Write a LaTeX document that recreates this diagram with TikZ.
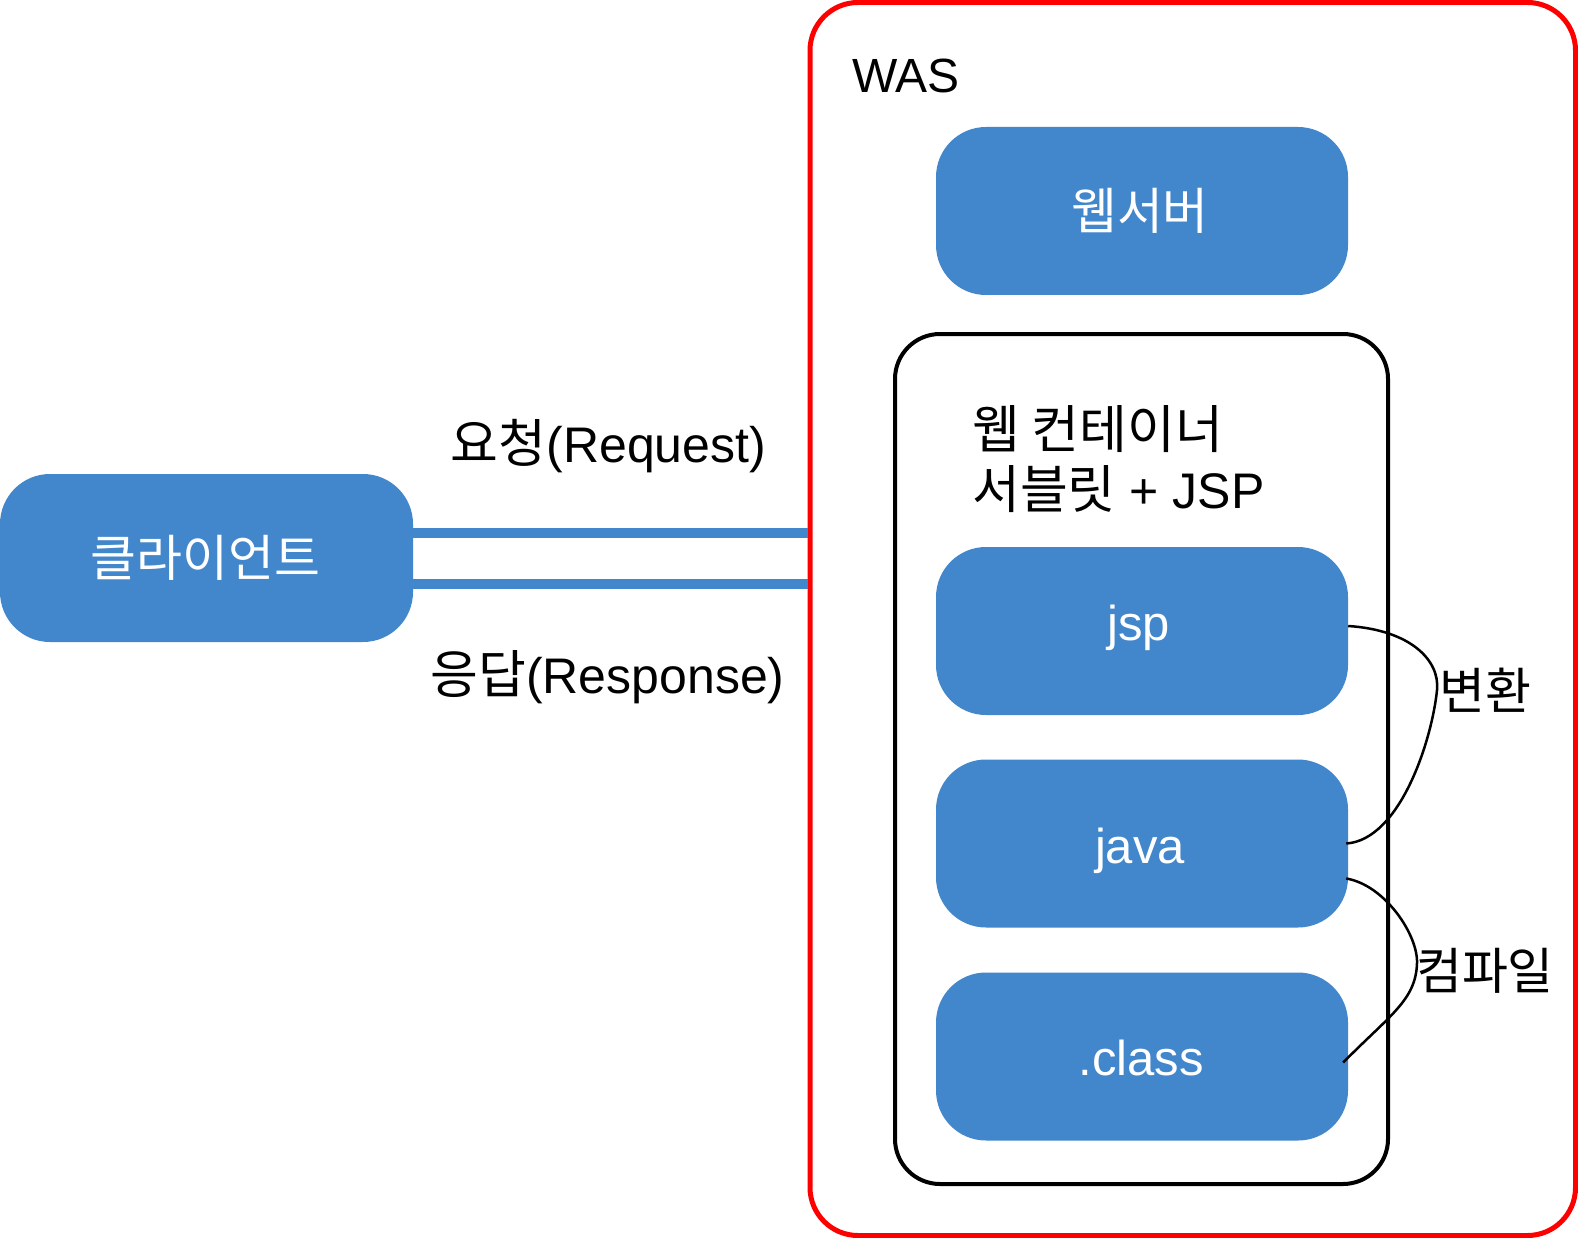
\documentclass[tikz,border=0pt]{standalone}
\usepackage{fontspec}
\setmainfont{Liberation Sans}
\newfontfamily\kr[Scale=1.04]{Noto Sans CJK KR}
\definecolor{boxblue}{RGB}{66,134,204}
\begin{document}
\begin{tikzpicture}[x=1pt,y=1pt,
  bluebox/.style={fill=boxblue, draw=none, rounded corners=50pt, minimum width=412pt, minimum height=168pt, inner sep=0pt},
  txt/.style={inner sep=0pt, font=\fontsize{48}{60}\selectfont},
  bigtxt/.style={inner sep=0pt, font=\fontsize{50}{60}\selectfont},
  wtxt/.style={txt, text=white},
  blueline/.style={draw=boxblue, line width=10pt},
  curveline/.style={draw=black, line width=2.5pt}]
\useasboundingbox (0,0) rectangle (1578,-1238);
% containers
\node[draw=red, line width=5pt, rounded corners=48pt, minimum width=765.5pt, minimum height=1233pt, inner sep=0pt] (was) at (1192.75,-619) {};
\node[draw=black, line width=4pt, rounded corners=45pt, minimum width=493pt, minimum height=850pt, inner sep=0pt] (cont) at (1141.5,-759) {};
% boxes
\node[bluebox, minimum width=413pt] (client) at (206.5,-558) {};
\node[bluebox] (web) at (1142,-211) {};
\node[bluebox] (jsp) at (1142,-631) {};
\node[bluebox] (java) at (1142,-843.5) {};
\node[bluebox] (class) at (1142,-1056.5) {};
% texts
\node[txt, anchor=base west] (wasl) at (852,-93) {WAS};
\node[wtxt] (clientl) at (205.5,-557.5) {\kr 클라이언트};
\node[wtxt] (webl) at (1140,-211) {\kr 웹서버};
\node[wtxt, font=\fontsize{49}{60}\selectfont, anchor=base] (jspl) at (1138.5,-640) {jsp};
\node[wtxt, font=\fontsize{49}{60}\selectfont, anchor=base] (javal) at (1140,-863) {java};
\node[wtxt, font=\fontsize{49}{60}\selectfont, anchor=base] (classl) at (1141,-1075) {.class};
\node[bigtxt, anchor=west, align=left] (contl) at (972,-459) {{\kr 웹 컨테이너}\\{\kr 서블릿} + JSP};
\node[bigtxt, anchor=base] (reql) at (608.5,-462) {{\kr 요청}(Request)};
\node[bigtxt, anchor=base] (resl) at (607.5,-693) {{\kr 응답}(Response)};
\node[txt] (convl) at (1485.5,-690.5) {\kr 변환};
\node[txt] (compl) at (1485,-970.5) {\kr 컴파일};
% connectors
\draw[blueline] (client.east |- 0,-533) -- (was.west |- 0,-533);
\draw[blueline] (client.east |- 0,-584) -- (was.west |- 0,-584);
\coordinate (c1s) at ([yshift=5pt]jsp.east);
\coordinate (c1m) at (1437,-690);
\coordinate (c1e) at ([xshift=-2pt]java.east);
\draw[curveline] (c1s) .. controls (1410,-630) and (1440,-660) .. (c1m)
  .. controls (1432,-740) and (1400,-840) .. (c1e);
\coordinate (c2s) at ([xshift=-2pt,yshift=-35pt]java.east);
\coordinate (c2m) at (1417,-963);
\coordinate (c2e) at ([xshift=-5pt,yshift=-6pt]class.east);
\draw[curveline] (c2s) .. controls (1385,-885) and (1418,-935) .. (c2m)
  .. controls (1416,-1000) and (1390,-1015) .. (c2e);
\end{tikzpicture}
\end{document}
